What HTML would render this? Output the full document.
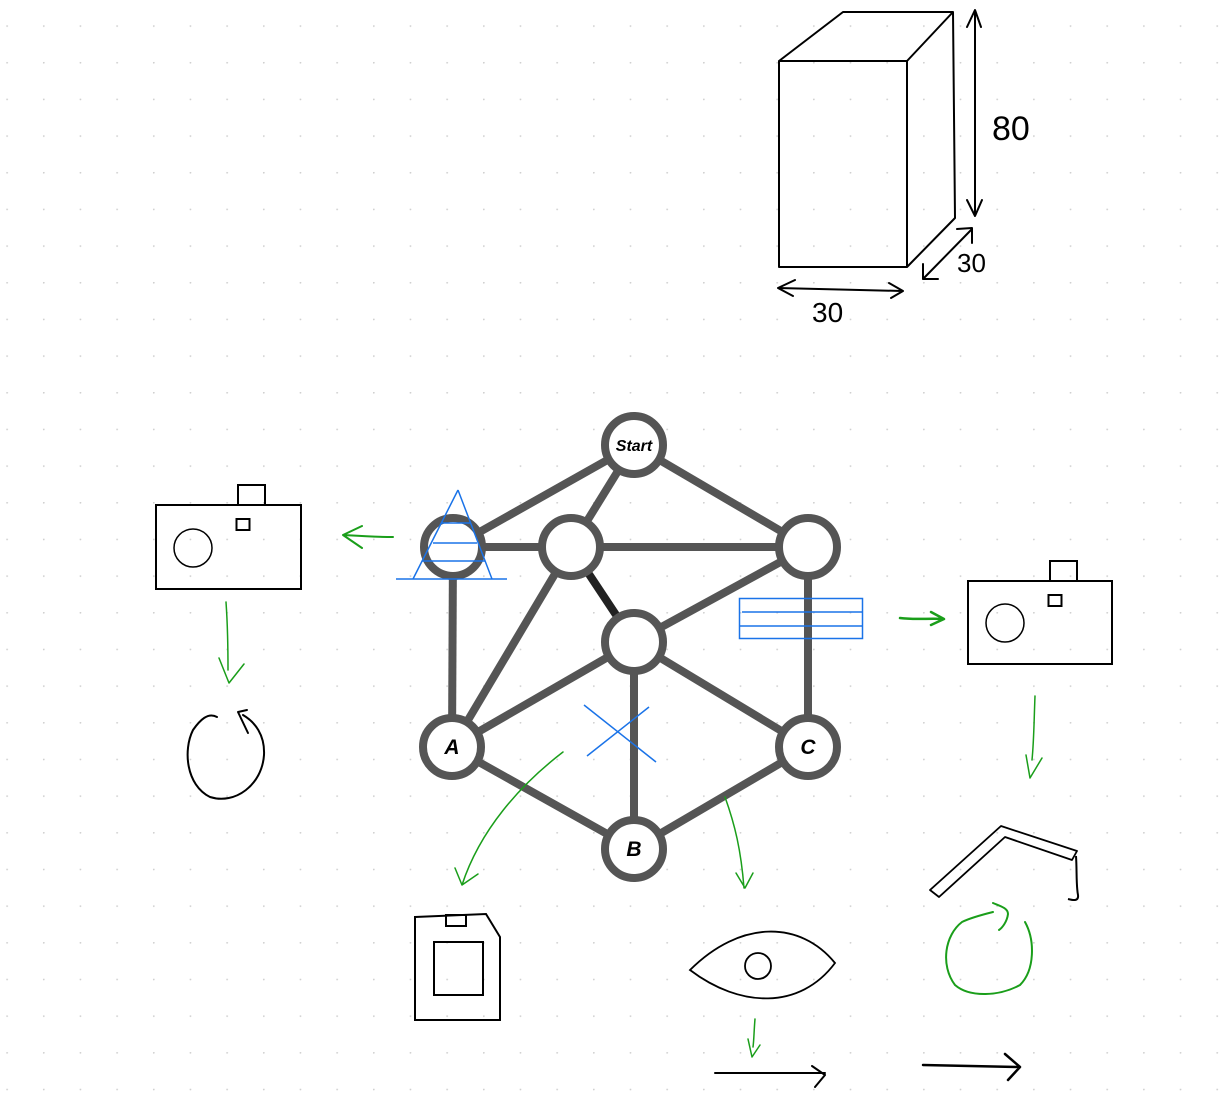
<!DOCTYPE html>
<html><head><meta charset="utf-8"><style>
html,body{margin:0;padding:0;background:#fff;}
svg{display:block;}
</style></head><body>
<svg width="1219" height="1098" viewBox="0 0 1219 1098" xmlns="http://www.w3.org/2000/svg">
<defs>
<pattern id="dots" x="6.3" y="25.3" width="36.67" height="36.67" patternUnits="userSpaceOnUse">
<circle cx="0.8" cy="0.8" r="0.9" fill="#cfcfcf"/>
</pattern>
</defs>
<rect x="0" y="0" width="1219" height="1098" fill="url(#dots)"/>

<!-- 3D box -->
<g fill="none" stroke="#000" stroke-width="2" stroke-linejoin="round">
<rect x="779" y="61" width="128" height="206"/>
<path d="M779 61 L843 12 L953 12 L907 61 M953 12 L955 218 L907 267"/>
<g stroke-linecap="round">
<path d="M975 12 L975 215 M967 27 L975 10 L981 27 M967 200 L975 216 L982 200"/>
<path d="M923 279 L972 229 M923 264 L923 279 L938 279 M957 229 L972 228 L972 243"/>
<path d="M778 288 L902 291 M795 280 L778 288 L793 296 M889 283 L903 291 L891 298"/>
</g>
</g>
<g font-family="'Liberation Sans',sans-serif" font-size="30" fill="#000">
<text x="992" y="140" font-size="34">80</text>
<text x="957" y="272" font-size="26">30</text>
<text x="812" y="322" font-size="28">30</text>
</g>

<!-- graph edges -->
<g stroke="#555" stroke-width="8" stroke-linecap="butt">
<line x1="634" y1="445" x2="453" y2="547"/>
<line x1="634" y1="445" x2="571" y2="547"/>
<line x1="634" y1="445" x2="808" y2="547"/>
<line x1="453" y1="547" x2="808" y2="547"/>
<line x1="453" y1="547" x2="452" y2="747"/>
<line x1="571" y1="547" x2="452" y2="747"/>
<line x1="808" y1="547" x2="634" y2="642"/>
<line x1="808" y1="547" x2="808" y2="747"/>
<line x1="634" y1="642" x2="452" y2="747"/>
<line x1="634" y1="642" x2="634" y2="849"/>
<line x1="634" y1="642" x2="808" y2="747"/>
<line x1="452" y1="747" x2="634" y2="849"/>
<line x1="808" y1="747" x2="634" y2="849"/>
</g>
<line x1="571" y1="547" x2="634" y2="642" stroke="#222" stroke-width="8"/>
<g fill="#fff" stroke="#555" stroke-width="8">
<circle cx="634" cy="445" r="29"/>
<circle cx="453" cy="547" r="29"/>
<circle cx="571" cy="547" r="29"/>
<circle cx="808" cy="547" r="29"/>
<circle cx="634" cy="642" r="29"/>
<circle cx="452" cy="747" r="29"/>
<circle cx="634" cy="849" r="29"/>
<circle cx="808" cy="747" r="29"/>
</g>
<g font-family="'Liberation Sans',sans-serif" font-weight="bold" font-style="italic" fill="#000" text-anchor="middle">
<text x="634" y="451" font-size="16">Start</text>
<text x="452" y="754" font-size="21">A</text>
<text x="634" y="856" font-size="21">B</text>
<text x="808" y="754" font-size="21">C</text>
</g>

<!-- blue annotations -->
<g stroke="#1a73e8" stroke-width="1.5" fill="none">
<path d="M458 490 L413 579 M458 490 L492 579"/>
<line x1="396" y1="579" x2="507" y2="579"/>
<line x1="441" y1="523" x2="470" y2="523"/>
<line x1="433" y1="543" x2="477" y2="543"/>
<line x1="422" y1="561" x2="485" y2="561"/>
<rect x="739.5" y="598.5" width="123" height="40"/>
<line x1="742" y1="612" x2="862" y2="612"/>
<line x1="740" y1="626" x2="862" y2="626"/>
<line x1="584" y1="705" x2="656" y2="762"/>
<line x1="587" y1="756" x2="649" y2="707"/>
</g>

<!-- green arrows -->
<g stroke="#1a9e1a" fill="none" stroke-width="1.5" stroke-linecap="round" stroke-linejoin="round">
<path d="M393 537 C375 537 360 536 343 535 M362 526 L343 535 L362 548" stroke-width="2"/>
<path d="M226 602 C228 630 228 650 228 670 M219 658 L229 683 L244 664"/>
<path d="M563 752 C520 785 480 830 462 885 M455 868 L462 885 L478 874"/>
<path d="M725 797 C735 825 741 850 744 888 M736 873 L745 888 L753 873"/>
<path d="M900 618 C915 620 930 618 944 619 L931 612 M944 619 L931 625" stroke-width="2.5"/>
<path d="M1035 696 C1034 720 1034 740 1032 760 M1026 755 L1030 778 L1042 758"/>
<path d="M755 1019 C754 1030 754 1040 753 1047 M748 1039 L752 1057 L760 1045"/>
<path d="M993 912 C985 914 970 918 962 922 C945 935 940 965 955 985 C970 998 1000 996 1020 985 C1035 970 1035 940 1025 922 M993 903 C1000 906 1008 908 1008 914 C1007 922 1002 928 999 930" stroke-width="2"/>
</g>

<!-- left camera -->
<g fill="none" stroke="#000" stroke-width="2">
<rect x="156" y="505" width="145" height="84"/>
<rect x="238" y="485" width="27" height="20"/>
<rect x="236.5" y="519" width="13" height="11"/>
<circle cx="193" cy="548" r="19" stroke-width="1.5"/>
</g>
<!-- right camera -->
<g fill="none" stroke="#000" stroke-width="2">
<rect x="968" y="581" width="144" height="83"/>
<rect x="1050" y="561" width="27" height="20"/>
<rect x="1048.5" y="595" width="13" height="11"/>
<circle cx="1005" cy="623" r="19" stroke-width="1.5"/>
</g>

<!-- rotate icon left -->
<g fill="none" stroke="#000" stroke-width="2" stroke-linecap="round" stroke-linejoin="round">
<path d="M217 717 C208 712 200 720 193 730 C183 750 186 785 210 797 C235 805 262 785 264 755 C265 735 255 722 243 715"/>
<path d="M247 710 L238 712 L248 733"/>
</g>

<!-- floppy -->
<g fill="none" stroke="#000" stroke-width="2">
<path d="M415 917 L486 914 L500 937 L500 1020 L415 1020 Z"/>
<rect x="446" y="915" width="20" height="11"/>
<rect x="434" y="942" width="49" height="53"/>
</g>

<!-- eye -->
<g fill="none" stroke="#000" stroke-width="1.8">
<path d="M690 970 C740 920 800 920 835 963 C800 1010 740 1008 690 970 Z"/>
<circle cx="758" cy="966" r="13"/>
</g>

<!-- bracket shape -->
<g fill="none" stroke="#000" stroke-width="1.8" stroke-linejoin="round">
<path d="M930 890 L1001 826 L1077 851 L1072 860 L1005 837 L939 897 Z"/>
<path d="M1076 856 C1077 870 1076 885 1078 895 C1079 902 1072 900 1068 899" stroke-width="2"/>
</g>

<!-- arrows bottom -->
<g fill="none" stroke="#000" stroke-width="2" stroke-linecap="round" stroke-linejoin="round">
<path d="M715 1073 L825 1073 M812 1066 L825 1075 L815 1087"/>
<path d="M923 1065 L1020 1067 M1005 1054 L1020 1067 L1008 1080" stroke-width="2.5"/>
</g>
</svg>
</body></html>
